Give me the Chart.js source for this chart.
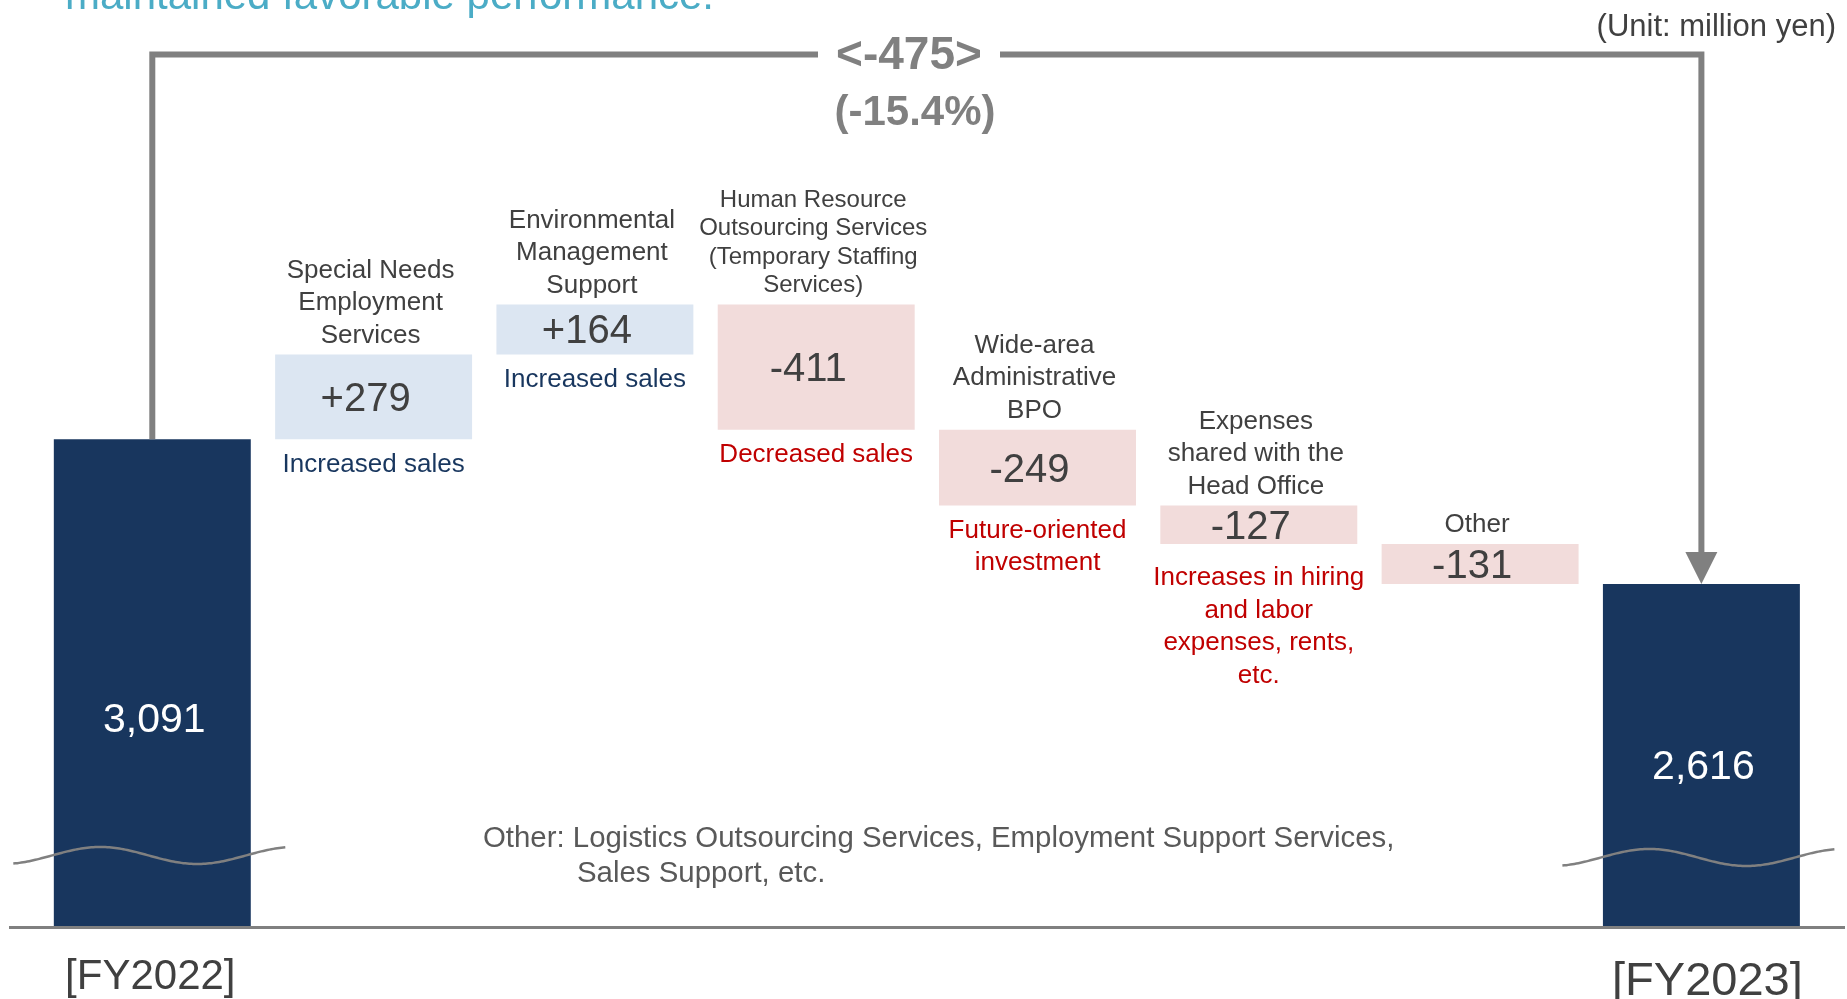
<!DOCTYPE html>
<html>
<head>
<meta charset="utf-8">
<title>Operating profit bridge FY2022 - FY2023</title>
<script src="https://cdn.jsdelivr.net/npm/chart.js@4.4.1/dist/chart.umd.min.js"></script>
<style>
  html, body { margin: 0; padding: 0; background: #ffffff; }
  #wrap { width: 1847px; height: 999px; position: relative; overflow: hidden; }
</style>
</head>
<body>
<div id="wrap"><canvas id="bridgeChart" width="1847" height="999"></canvas></div>
<script>
// 期首・期末の実績（百万円）
const periods = ['[FY2022]', '[FY2023]'];
const startTotal = 3091;
const endTotal = 2616;

// セグメント別の増減
const segmentLines = [
    ['Special Needs', 'Employment', 'Services'],
    ['Environmental', 'Management', 'Support'],
    ['Human Resource', 'Outsourcing Services', '(Temporary Staffing', 'Services)'],
    ['Wide-area', 'Administrative', 'BPO'],
    ['Expenses', 'shared with the', 'Head Office'],
    ['Other']
];
const changes = [279, 164, -411, -249, -127, -131];
const reasons = [
    ['Increased sales'],
    ['Increased sales'],
    ['Decreased sales'],
    ['Future-oriented', 'investment'],
    ['Increases in hiring', 'and labor', 'expenses, rents,', 'etc.'],
    []
];

const headline = 'maintained favorable performance.';
const unitText = '(Unit: million yen)';
const footnote = ['Other: Logistics Outsourcing Services, Employment Support Services,', 'Sales Support, etc.'];

// 縦軸は途中省略（波線）なので下端を切る
const Y_MIN = 1489.5;
const Y_MAX = 4534;

const NAVY = '#18365E';
const UP_FILL = '#DCE6F2';
const DOWN_FILL = '#F2DCDB';
const GRAY = '#808080';
const TEXT = '#404040';
const FONT = '"Liberation Sans", Arial, sans-serif';
const WAVE_Y = 855.5;

// ウォーターフォール用データを組み立て
const categories = [periods[0]].concat(segmentLines.map(l => l.join(' ')), [periods[1]]);
const barData = [startTotal];
const barColors = [NAVY];
let level = startTotal;
changes.forEach(c => {
    barData.push([level, level + c]);
    barColors.push(c >= 0 ? UP_FILL : DOWN_FILL);
    level += c;
});
barData.push(endTotal);
barColors.push(NAVY);

const diff = endTotal - startTotal;
const diffText = '<' + diff + '>';
const rateText = '(' + (diff / startTotal * 100).toFixed(1) + '%)';

function fmt(v) {
    return v.toLocaleString('en-US');
}

function text(ctx, str, x, y, font, color, align, baseline) {
    ctx.font = font;
    ctx.fillStyle = color;
    ctx.textAlign = align || 'center';
    ctx.textBaseline = baseline || 'middle';
    ctx.fillText(str, x, y);
}

function drawWave(ctx, cx, dy) {
    // 省略記号の波線
    const peak = cx - 52;
    ctx.beginPath();
    for (let px = cx - 139; px <= cx + 133; px += 2) {
        const py = WAVE_Y + dy - 8.5 * Math.cos(Math.PI * (px - peak) / 97);
        if (px === cx - 139) ctx.moveTo(px, py); else ctx.lineTo(px, py);
    }
    ctx.strokeStyle = GRAY;
    ctx.lineWidth = 2.5;
    ctx.stroke();
}

const bridgeDecor = {
    id: 'bridgeDecor',
    afterDatasetsDraw(chart) {
        const ctx = chart.ctx;
        const bars = chart.getDatasetMeta(0).data;
        const first = bars[0];
        const last = bars[bars.length - 1];
        ctx.save();

        // 見出しの末尾・単位
        text(ctx, headline, 65, 9, '42px ' + FONT, '#4BACC6', 'left', 'alphabetic');
        text(ctx, unitText, 1836, 36, '31px ' + FONT, TEXT, 'right', 'alphabetic');

        // 増減ブロックのラベル
        for (let i = 0; i < changes.length; i++) {
            const bar = bars[i + 1];
            const top = Math.min(bar.y, bar.base);
            const bottom = Math.max(bar.y, bar.base);
            const lines = segmentLines[i];
            const size = lines.length > 3 ? 24 : 26;
            const lh = lines.length > 3 ? 28.5 : 32.5;
            lines.forEach((ln, k) => {
                text(ctx, ln, bar.x - 3, top - 19 - (lines.length - 1 - k) * lh, size + 'px ' + FONT, TEXT);
            });
            const v = changes[i];
            text(ctx, (v > 0 ? '+' : '') + v, bar.x - 8, (top + bottom) / 2 + 3, '40px ' + FONT, TEXT);
            const noteColor = v >= 0 ? NAVY : '#C00000';
            const notes = reasons[i];
            const gap = notes.length > 2 ? 34 : 25;
            notes.forEach((ln, k) => {
                text(ctx, ln, bar.x, bottom + gap + k * 32.5, '26px ' + FONT, noteColor);
            });
        }

        // 期首・期末の金額と波線
        [first, last].forEach((bar, j) => {
            const val = j === 0 ? startTotal : endTotal;
            const y = bar.y + (WAVE_Y - bar.y) * 0.677;
            text(ctx, fmt(val), bar.x + 2, y, '41px ' + FONT, '#FFFFFF');
            drawWave(ctx, bar.x, j === 0 ? 0 : 2);
        });

        // 増減額のブラケットと矢印
        const lineY = 54.5;
        const labelX = 909;
        const arrowTip = last.y;
        const arrowBase = arrowTip - 32;
        ctx.strokeStyle = GRAY;
        ctx.lineWidth = 6;
        ctx.lineJoin = 'miter';
        ctx.lineCap = 'butt';
        ctx.beginPath();
        ctx.moveTo(first.x, first.y);
        ctx.lineTo(first.x, lineY);
        ctx.lineTo(labelX - 91, lineY);
        ctx.stroke();
        ctx.beginPath();
        ctx.moveTo(labelX + 91, lineY);
        ctx.lineTo(last.x, lineY);
        ctx.lineTo(last.x, arrowBase + 1);
        ctx.stroke();
        ctx.beginPath();
        ctx.moveTo(last.x - 16, arrowBase);
        ctx.lineTo(last.x + 16, arrowBase);
        ctx.lineTo(last.x, arrowTip);
        ctx.closePath();
        ctx.fillStyle = GRAY;
        ctx.fill();
        text(ctx, diffText, labelX, 56.7, 'bold 46px ' + FONT, GRAY);
        text(ctx, rateText, labelX + 6, 113, 'bold 42px ' + FONT, GRAY);

        // 基準線
        ctx.beginPath();
        ctx.moveTo(9, 927.5);
        ctx.lineTo(1845, 927.5);
        ctx.lineWidth = 3;
        ctx.strokeStyle = GRAY;
        ctx.stroke();

        // 年度ラベル
        text(ctx, periods[0], first.x - 2, 977, '42px ' + FONT, TEXT);
        text(ctx, periods[1], last.x + 6, 982, '47px ' + FONT, TEXT);

        // 注記
        text(ctx, footnote[0], 483, 839, '29.4px ' + FONT, '#595959', 'left');
        text(ctx, footnote[1], 577, 874, '29.4px ' + FONT, '#595959', 'left');

        ctx.restore();
    }
};

const ctx = document.getElementById('bridgeChart').getContext('2d');
const chart = new Chart(ctx, {
    type: 'bar',
    data: {
        labels: categories,
        datasets: [{
            data: barData,
            base: Y_MIN,
            backgroundColor: barColors,
            borderWidth: 0,
            barPercentage: 0.89,
            categoryPercentage: 1
        }]
    },
    options: {
        responsive: false,
        animation: false,
        layout: { padding: { left: 41.65, right: 34.95, top: 0, bottom: 72 } },
        plugins: {
            legend: { display: false },
            tooltip: { enabled: false }
        },
        scales: {
            x: { display: false },
            y: { display: false, min: Y_MIN, max: Y_MAX }
        }
    },
    plugins: [bridgeDecor]
});
</script>
</body>
</html>
